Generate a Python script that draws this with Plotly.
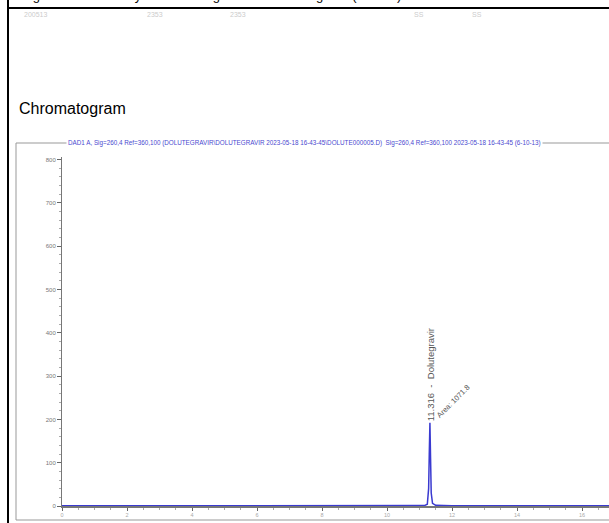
import plotly.graph_objects as go

# ---- data ----
time_min = [0.0, 5.0, 10.5, 11.15, 11.24, 11.28, 11.30, 11.32, 11.34, 11.36, 11.40, 11.50, 12.0, 16.83]
signal_mau = [0.4, 0.5, 0.6, 1.0, 4.0, 40.0, 120.0, 192.0, 110.0, 30.0, 6.0, 1.5, 0.7, 0.5]
y_ticks = [0, 100, 200, 300, 400, 500, 600, 700, 800]
x_ticks = [0, 2, 4, 6, 8, 10, 12, 14, 16]
peak_rt = 11.32
peak_height = 192.0
peak_name = "Dolutegravir"
peak_area = "Area: 1071.8"
header = ("DAD1 A, Sig=260,4 Ref=360,100 (DOLUTEGRAVIR\\DOLUTEGRAVIR 2023-05-18 16-43-45\\"
          "DOLUTE000005.D)  Sig=260,4 Ref=360,100 2023-05-18 16-43-45 (6-10-13)")

W, H = 609, 523
L, R, T, B = 62, 609, 157, 506


def px(p):
    return (p - L) / (R - L)


def py(p):
    return (B - p) / (B - T)


fig = go.Figure()
fig.add_trace(go.Scatter(x=time_min, y=signal_mau, mode="lines",
                         line=dict(color="#3a3ad0", width=1.5), hoverinfo="skip"))

fig.update_layout(
    width=W, height=H, margin=dict(l=L, r=W - R, t=T, b=H - B),
    paper_bgcolor="white", plot_bgcolor="white", showlegend=False,
    font=dict(family="Liberation Sans, Arial, sans-serif"),
)
fig.update_xaxes(range=[0, 16.83], tickvals=x_ticks, ticks="outside", ticklen=3,
                 tickcolor="#666", showgrid=False, zeroline=False,
                 showline=True, linecolor="#777", linewidth=1.5,
                 tickfont=dict(size=5.5, color="#aaa"),
                 minor=dict(dtick=0.5, ticks="outside", ticklen=2, tickcolor="#aaa"))
fig.update_yaxes(range=[0, 806], tickvals=y_ticks, ticks="outside", ticklen=4,
                 tickcolor="#666", showgrid=False, zeroline=False,
                 showline=True, linecolor="#777", linewidth=1,
                 tickfont=dict(size=6, color="#777"),
                 minor=dict(dtick=20, ticks="outside", ticklen=2, tickcolor="#aaa"))

shapes = [
    # black frame lines of the page
    dict(type="line", xref="paper", yref="paper", x0=px(8), x1=px(8), y0=py(0), y1=py(523),
         line=dict(color="black", width=2)),
    dict(type="line", xref="paper", yref="paper", x0=px(8), x1=px(609), y0=py(8), y1=py(8),
         line=dict(color="black", width=2)),
    # gray chart box
    dict(type="line", xref="paper", yref="paper", x0=px(16), x1=px(16), y0=py(143), y1=py(520),
         line=dict(color="#999", width=1)),
    dict(type="line", xref="paper", yref="paper", x0=px(16), x1=px(609), y0=py(143), y1=py(143),
         line=dict(color="#999", width=1)),
    dict(type="line", xref="paper", yref="paper", x0=px(16), x1=px(609), y0=py(520), y1=py(520),
         line=dict(color="#999", width=1)),
]
fig.update_layout(shapes=shapes)

ann = [
    dict(text="Fig. XX: HPLC analysis of Dolutegravir from Dolutegravir (Peak 2)",
         xref="paper", yref="paper", x=px(20), y=py(5), xanchor="left", yanchor="bottom",
         showarrow=False, font=dict(size=13, color="black")),
    dict(text="Chromatogram", xref="paper", yref="paper", x=px(17), y=py(108),
         xanchor="left", yanchor="middle", showarrow=False,
         font=dict(size=16, color="black")),
    dict(text=header, xref="paper", yref="paper", x=px(66), y=py(143),
         xanchor="left", yanchor="middle", showarrow=False, bgcolor="white",
         font=dict(size=6.3, color="#4a4ad0")),
    dict(text="11.316  -  " + peak_name, x=peak_rt, y=peak_height, xref="x", yref="y",
         textangle=-90, xanchor="center", yanchor="bottom", showarrow=False,
         font=dict(size=9.5, color="#555")),
    dict(text=peak_area, x=peak_rt, y=peak_height, xref="x", yref="y",
         textangle=-45, xanchor="left", yanchor="bottom", xshift=2, showarrow=False,
         font=dict(size=7.5, color="#555")),
]
for xp, t in [(22, "200513"), (145, "2353"), (228, "2353"), (412, "SS"), (470, "SS")]:
    ann.append(dict(text=t, xref="paper", yref="paper", x=px(xp), y=py(15),
                    xanchor="left", yanchor="middle", showarrow=False,
                    font=dict(size=7, color="#ccc")))
fig.update_layout(annotations=ann)

fig.write_html("out.html", config={"displayModeBar": False},
               post_script="document.body.style.margin='0';document.body.style.overflow='hidden';")
